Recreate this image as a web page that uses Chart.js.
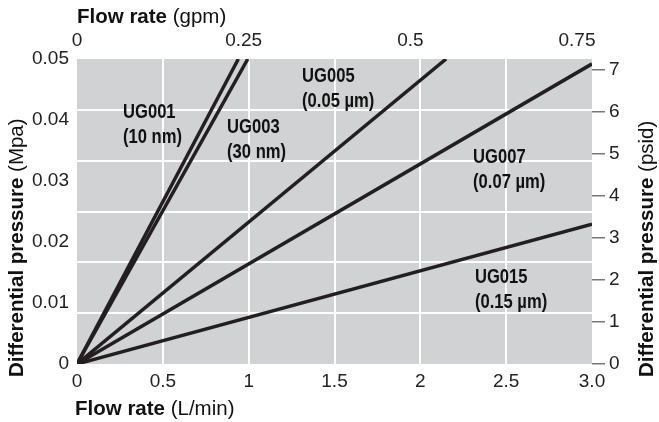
<!DOCTYPE html>
<html lang="en">
<head>
<meta charset="UTF-8">
<title>Differential pressure vs flow rate</title>
<script src="https://cdn.jsdelivr.net/npm/chart.js"></script>
<style>
    body { margin: 0; background: #fff; }
    #chart { display: block; }
</style>
</head>
<body>
<canvas id="chart" width="659" height="422"></canvas>
<script>
// filter series: name, pore size, where each straight line leaves the plot
const seriesNames = ['UG001', 'UG003', 'UG005', 'UG007', 'UG015'];
const seriesSizes = ['(10 nm)', '(30 nm)', '(0.05 µm)', '(0.07 µm)', '(0.15 µm)'];
const endFlow = [0.94, 0.995, 2.15, 3.0, 3.0];          // L/min
const endPressure = [0.05, 0.05, 0.05, 0.0492, 0.0229]; // MPa

// tick values / labels
const lminTicks = [0, 0.5, 1, 1.5, 2, 2.5, 3];
const lminLabels = ['0', '0.5', '1', '1.5', '2', '2.5', '3.0'];
const gpmTicks = [0, 0.25, 0.5, 0.75];
const gpmLabels = ['0', '0.25', '0.5', '0.75'];
const mpaTicks = [0, 0.01, 0.02, 0.03, 0.04, 0.05];
const mpaLabels = ['0', '0.01', '0.02', '0.03', '0.04', '0.05'];
const psiTicks = [0, 1, 2, 3, 4, 5, 6, 7];

// label anchors in data units (left edge, first baseline)
const labelFlow = [0.268, 0.874, 1.311, 2.307, 2.318];
const labelPress = [0.0403, 0.0379, 0.0462, 0.0330, 0.0133];

const INK = '#231f20';
const TICK_FONT = { family: "'Liberation Sans', Arial, sans-serif", size: 19 };

function fixTicks(list) {
    return scale => { scale.ticks = list.map(v => ({ value: v })); };
}

const bgPlugin = {
    id: 'plotBg',
    beforeDraw(chart) {
        const a = chart.chartArea, ctx = chart.ctx;
        ctx.save();
        ctx.fillStyle = '#d1d2d4';
        ctx.fillRect(a.left, a.top, a.right - a.left, a.bottom - a.top);
        ctx.restore();
    }
};

function drawRuns(ctx, runs, x, y) {
    // runs: [[text, weight], ...] drawn left to right from (x, y)
    let cx = x;
    runs.forEach(([t, w]) => {
        ctx.font = w + " 20.5px 'Liberation Sans', Arial, sans-serif";
        ctx.fillText(t, cx, y);
        cx += ctx.measureText(t).width;
    });
}

const textPlugin = {
    id: 'texts',
    afterDraw(chart) {
        const ctx = chart.ctx;
        const xs = chart.scales.x, ys = chart.scales.y;
        ctx.save();
        ctx.fillStyle = '#111';
        ctx.textBaseline = 'alphabetic';
        ctx.textAlign = 'left';

        // series labels, condensed bold
        seriesNames.forEach((name, i) => {
            const px = xs.getPixelForValue(labelFlow[i]);
            const py = ys.getPixelForValue(labelPress[i]);
            ctx.font = "bold 20px 'Liberation Sans', Arial, sans-serif";
            [name, seriesSizes[i]].forEach((t, k) => {
                ctx.save();
                ctx.translate(px, py + k * 25);
                ctx.scale(0.83, 1);
                ctx.fillText(t, 0, 0);
                ctx.restore();
            });
        });

        // axis titles
        drawRuns(ctx, [['Flow rate ', 'bold'], ['(gpm)', 'normal']], 77, 23);
        drawRuns(ctx, [['Flow rate ', 'bold'], ['(L/min)', 'normal']], 75, 415);

        ctx.save();
        ctx.translate(23, 377);
        ctx.rotate(-Math.PI / 2);
        drawRuns(ctx, [['Differential pressure ', 'bold'], ['(Mpa)', 'normal']], 0, 0);
        ctx.restore();

        ctx.save();
        ctx.translate(653, 377);
        ctx.rotate(-Math.PI / 2);
        drawRuns(ctx, [['Differential pressure ', 'bold'], ['(psid)', 'normal']], 0, 0);
        ctx.restore();

        ctx.restore();
    }
};

const datasets = seriesNames.map((name, i) => ({
    label: name,
    data: [{ x: 0, y: 0 }, { x: endFlow[i], y: endPressure[i] }],
    borderColor: INK,
    borderWidth: 3.5,
    pointRadius: 0,
    fill: false,
    xAxisID: 'x',
    yAxisID: 'y'
}));

const edgeless = n => c => (c.index === 0 || c.index === n) ? 'rgba(0,0,0,0)' : '#ffffff';

new Chart(document.getElementById('chart'), {
    type: 'line',
    data: { datasets },
    plugins: [bgPlugin, textPlugin],
    options: {
        responsive: false,
        animation: false,
        devicePixelRatio: 1,
        layout: { padding: 0 },
        plugins: { legend: { display: false }, tooltip: { enabled: false } },
        scales: {
            x: {
                type: 'linear', position: 'bottom', min: 0, max: 3,
                afterBuildTicks: fixTicks(lminTicks),
                afterFit: s => { s.height = 58; },
                border: { display: false },
                grid: { color: edgeless(6), lineWidth: 2, drawTicks: false },
                ticks: {
                    autoSkip: false, maxRotation: 0, padding: 6, color: '#222', font: TICK_FONT,
                    callback: (v, i) => lminLabels[i]
                }
            },
            x2: {
                type: 'linear', position: 'top', min: 0, max: 0.7725,
                afterBuildTicks: fixTicks(gpmTicks),
                afterFit: s => { s.height = 59; },
                border: { display: false },
                grid: { display: false, drawTicks: false },
                ticks: {
                    autoSkip: false, maxRotation: 0, padding: 7, color: '#222', font: TICK_FONT,
                    callback: (v, i) => gpmLabels[i]
                }
            },
            y: {
                type: 'linear', position: 'left', min: 0, max: 0.05,
                afterBuildTicks: fixTicks(mpaTicks),
                afterFit: s => { s.width = 77; },
                border: { display: false },
                grid: { display: false, drawTicks: false },
                ticks: {
                    autoSkip: false, padding: 8, color: '#222', font: TICK_FONT,
                    callback: (v, i) => mpaLabels[i]
                }
            },
            yg: {
                type: 'linear', position: 'left', min: 0, max: 6,
                afterBuildTicks: fixTicks([0, 1, 2, 3, 4, 5, 6]),
                afterFit: s => { s.width = 0; },
                border: { display: false },
                grid: { color: edgeless(6), lineWidth: 2, drawTicks: false },
                ticks: { display: false }
            },
            y2: {
                type: 'linear', position: 'right', min: 0, max: 0.05 * 145.038,
                afterBuildTicks: fixTicks(psiTicks),
                afterFit: s => { s.width = 67; },
                border: { display: false },
                grid: { drawOnChartArea: false, drawTicks: true, tickLength: 13, color: '#777', lineWidth: 1.5 },
                ticks: {
                    autoSkip: false, padding: 4, color: '#222', font: TICK_FONT,
                    callback: v => String(v)
                }
            }
        }
    }
});
</script>
</body>
</html>
